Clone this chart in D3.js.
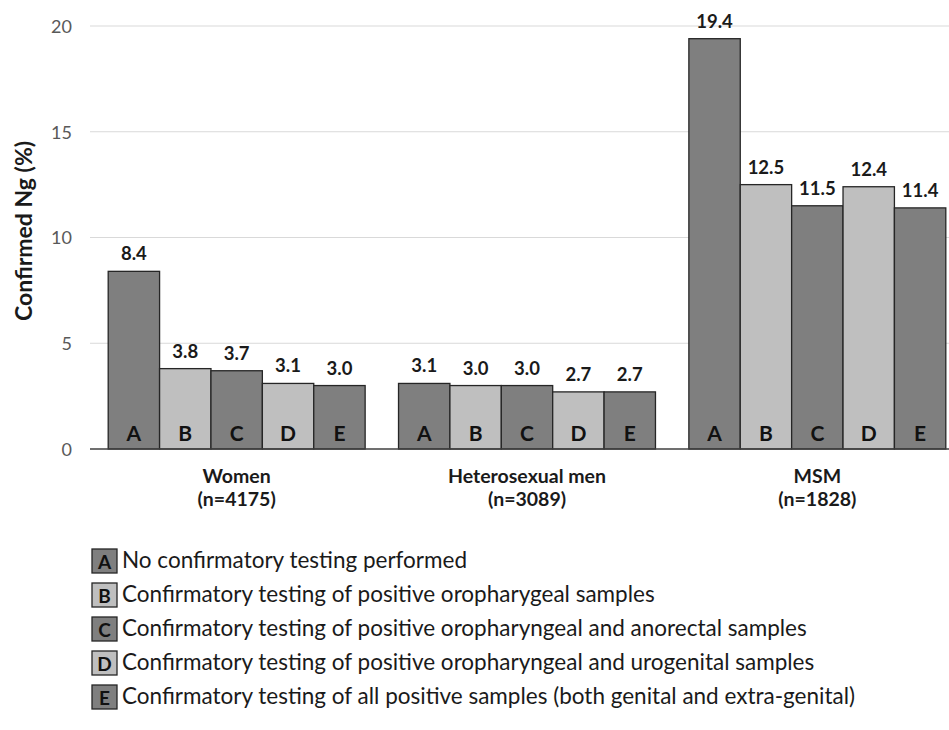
<!DOCTYPE html>
<html><head><meta charset="utf-8">
<script src="https://cdn.jsdelivr.net/npm/d3@7"></script>
<style>body{margin:0;background:#fff}svg{display:block}</style>
</head><body>
<script>
const groups = ["Women", "Heterosexual men", "MSM"];
const groupN = ["(n=4175)", "(n=3089)", "(n=1828)"];
const series = ["A", "B", "C", "D", "E"];
const women = [8.4, 3.8, 3.7, 3.1, 3.0];
const hetero = [3.1, 3.0, 3.0, 2.7, 2.7];
const msm = [19.4, 12.5, 11.5, 12.4, 11.4];
const yTicks = [0, 5, 10, 15, 20];
const legendLabels = [
  "No confirmatory testing performed",
  "Confirmatory testing of positive oropharygeal samples",
  "Confirmatory testing of positive oropharyngeal and anorectal samples",
  "Confirmatory testing of positive oropharyngeal and urogenital samples",
  "Confirmatory testing of all positive samples (both genital and extra-genital)"
];
const values = [women, hetero, msm];
const colors = ["#7f7f7f", "#bfbfbf", "#7f7f7f", "#bfbfbf", "#7f7f7f"];
const font = "Lato, 'Open Sans', sans-serif";

const W = 949, H = 730;
const svg = d3.select("body").append("svg").attr("width", W).attr("height", H)
  .style("font-family", font);

const y = d3.scaleLinear().domain([0, 20]).range([449, 26]);
const x0 = d3.scaleBand().domain(groups).range([91.5, 962.5]).paddingInner(0.115).paddingOuter(0.0575);
const x1 = d3.scaleBand().domain(series).range([0, x0.bandwidth()]);

// gridlines
svg.append("g").selectAll("line").data(yTicks.filter(d => d > 0)).join("line")
  .attr("x1", 90).attr("x2", W).attr("y1", d => y(d)).attr("y2", d => y(d))
  .attr("stroke", "#d9d9d9").attr("stroke-width", 1.2);

// y tick labels
const yAxis = d3.axisLeft(y).tickValues(yTicks).tickSize(0).tickPadding(0);
const ya = svg.append("g").attr("transform", "translate(72,0)").call(yAxis);
ya.select(".domain").remove();
ya.selectAll("text").attr("fill", "#595959").style("font-size", "18px").style("font-family", font).attr("dy", "0.35em");

// bars
const g = svg.append("g").selectAll("g").data(groups).join("g")
  .attr("transform", d => `translate(${x0(d)},0)`);
g.each(function(grp, gi) {
  const sel = d3.select(this);
  const data = series.map((s, i) => ({s, i, v: values[gi][i]}));
  sel.selectAll("rect").data(data).join("rect")
    .attr("x", d => x1(d.s)).attr("width", x1.bandwidth())
    .attr("y", d => y(d.v)).attr("height", d => y(0) - y(d.v))
    .attr("fill", d => colors[d.i]).attr("stroke", "#262626").attr("stroke-width", 1.3);
  sel.selectAll("text.val").data(data).join("text").attr("class", "val")
    .attr("x", d => x1(d.s) + x1.bandwidth() / 2).attr("y", d => y(d.v) - 11)
    .attr("text-anchor", "middle").attr("font-weight", "bold").attr("font-size", 18.5).attr("fill", "#1a1a1a")
    .text(d => d.v.toFixed(1));
  sel.selectAll("text.let").data(data).join("text").attr("class", "let")
    .attr("x", d => x1(d.s) + x1.bandwidth() / 2).attr("y", 441)
    .attr("text-anchor", "middle").attr("font-weight", "bold").attr("font-size", 21).attr("fill", "#111")
    .text(d => d.s);
});

// x axis line
svg.append("line").attr("x1", 90).attr("x2", W).attr("y1", y(0)).attr("y2", y(0))
  .attr("stroke", "#404040").attr("stroke-width", 1.5);

// group labels
const gl = svg.append("g").selectAll("text").data(groups).join("text")
  .attr("x", d => x0(d) + x0.bandwidth() / 2).attr("text-anchor", "middle")
  .attr("font-weight", "bold").attr("font-size", 19.5).attr("fill", "#1a1a1a");
gl.append("tspan").attr("x", d => x0(d) + x0.bandwidth() / 2).attr("y", 483).text(d => d);
gl.append("tspan").attr("x", d => x0(d) + x0.bandwidth() / 2).attr("y", 506).text((d, i) => groupN[i]);

// y axis title
svg.append("text").attr("transform", "translate(32,231) rotate(-90)")
  .attr("text-anchor", "middle").attr("font-weight", "bold").attr("font-size", 23).attr("fill", "#1a1a1a")
  .text("Confirmed Ng (%)");

// legend
const lg = svg.append("g").selectAll("g").data(series).join("g")
  .attr("transform", (d, i) => `translate(0,${561 + i * 34})`);
lg.append("rect").attr("x", 92).attr("y", -12).attr("width", 25).attr("height", 24)
  .attr("fill", (d, i) => colors[i]).attr("stroke", "#262626").attr("stroke-width", 1.3);
lg.append("text").attr("x", 104.5).attr("y", 7.5).attr("text-anchor", "middle")
  .attr("font-weight", "bold").attr("font-size", 19).attr("fill", "#111").text(d => d);
const lt = lg.append("text").attr("class", "lt").attr("x", 122).attr("y", 7)
  .attr("font-size", 20).attr("fill", "#1a1a1a").text((d, i) => legendLabels[i]);
// fit longest legend line to reference width
const longest = lt.nodes()[4].getComputedTextLength();
const fs = 20 * 733 / longest;
lt.attr("font-size", fs);
</script>
</body></html>
